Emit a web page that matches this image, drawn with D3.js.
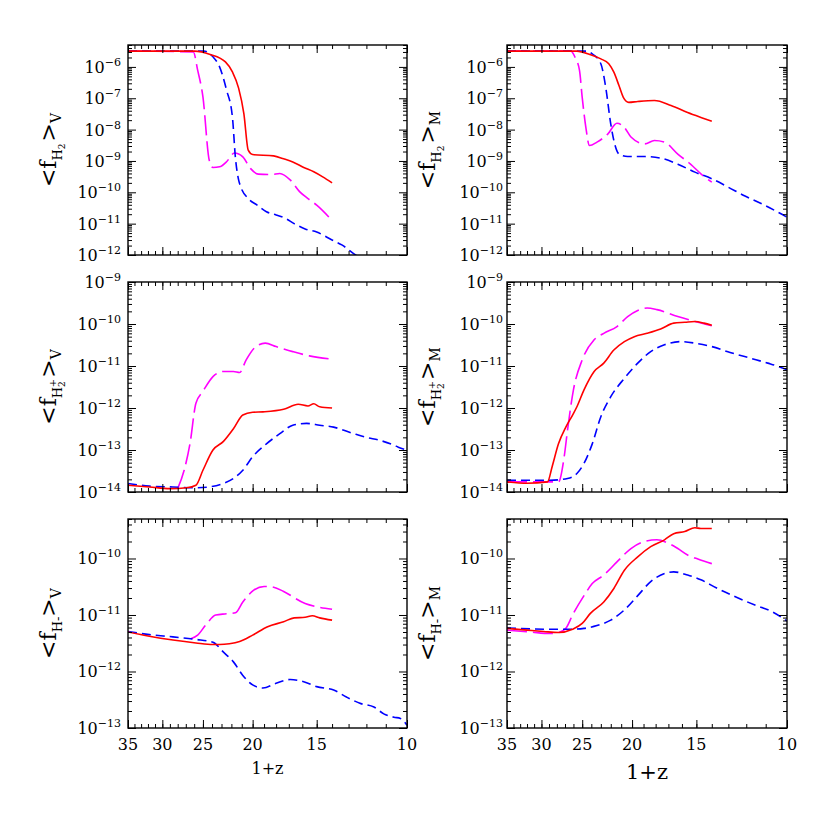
<!DOCTYPE html>
<html>
<head>
<meta charset="utf-8">
<script src="https://cdn.jsdelivr.net/npm/d3@7"></script>
<style>
  body { margin: 0; background: #fff; }
  svg { display: block; }
</style>
</head>
<body>
<div id="chart"></div>
<script>
// x axis: 1+z, log scale, running from 35 down to 10
const xDomain = [35, 10];
const xMajorTicks = [35, 30, 25, 20, 15, 10];

// y ranges per row (H2, H2+, H-)
const rowDomains = [[1e-12, 5e-6], [1e-14, 1e-9], [1e-13, 5e-10]];
const rowTickExps = [
  [-12, -11, -10, -9, -8, -7, -6],
  [-14, -13, -12, -11, -10, -9],
  [-13, -12, -11, -10]
];

// ---- <f_H2>_V ----
const h2V_solid = [[35, 3.2e-6], [26, 3.2e-6], [24.2, 2.5e-6], [22.6, 1.45e-6], [21.9, 6.9e-7], [21.3, 2.1e-7],
  [20.8, 3.2e-8], [20.4, 2.2e-9], [20.0, 1.6e-9], [18.2, 1.45e-9], [17.4, 1.17e-9], [16.7, 9.3e-10],
  [15.9, 6.2e-10], [15.2, 4.5e-10], [14.6, 3.1e-10], [14.0, 2.0e-10]];
const h2V_long = [[35, 3.2e-6], [26.1, 3.0e-6], [25.6, 7.9e-7], [25.0, 1.1e-7], [24.3, 1.05e-9], [23.9, 6.2e-10],
  [23.2, 6.5e-10], [22.5, 9.3e-10], [21.7, 1.8e-9], [20.9, 1.35e-9], [20.2, 5.8e-10], [19.5, 3.8e-10],
  [18.4, 3.7e-10], [17.7, 4.0e-10], [16.9, 2.5e-10], [16.2, 1.05e-10], [15.6, 6.3e-11], [15.0, 3.9e-11],
  [14.0, 1.26e-11]];
const h2V_short = [[35, 3.2e-6], [24.9, 3.2e-6], [23.9, 2.1e-6], [23.2, 1.0e-6], [22.5, 1.9e-7], [21.9, 2.5e-8],
  [21.6, 1.2e-9], [21.3, 2.5e-10], [21.1, 1.5e-10], [20.4, 6.3e-11], [19.6, 3.9e-11], [18.8, 2.4e-11],
  [18.0, 1.9e-11], [17.3, 1.5e-11], [16.6, 1.0e-11], [15.8, 6.8e-12], [15.0, 5.4e-12], [14.0, 3.0e-12],
  [13.4, 2.1e-12], [12.6, 1.0e-12], [12.0, 6e-13]];

// ---- <f_H2>_M ----
const h2M_solid = [[35, 3.2e-6], [25.6, 3.2e-6], [24.1, 2.45e-6], [23.0, 1.8e-6], [22.2, 1.26e-6], [21.7, 6.8e-7],
  [21.2, 2.5e-7], [20.8, 1.07e-7], [20.3, 7.4e-8], [19.5, 7.9e-8], [18.1, 8.5e-8], [16.8, 5.9e-8],
  [15.6, 3.5e-8], [14.7, 2.45e-8], [14.0, 1.86e-8]];
const h2M_long = [[35, 3.2e-6], [26.3, 3.2e-6], [25.8, 2.0e-6], [25.3, 7.6e-7], [25.0, 1.07e-7], [24.6, 1.2e-8],
  [24.2, 3.1e-9], [23.4, 4.0e-9], [22.3, 7.2e-9], [21.4, 1.6e-8], [20.7, 1.17e-8], [20.1, 5.8e-9],
  [18.9, 3.5e-9], [18.1, 4.5e-9], [17.3, 4.0e-9], [16.3, 1.66e-9], [15.4, 7.9e-10], [14.7, 3.9e-10],
  [14.0, 2.1e-10]];
const h2M_short = [[35, 3.2e-6], [24.6, 3.2e-6], [23.9, 2.6e-6], [23.0, 1.26e-6], [22.5, 2.2e-7], [22.0, 1.5e-8],
  [21.7, 4.5e-9], [21.2, 1.66e-9], [20.4, 1.38e-9], [18.9, 1.38e-9], [17.6, 1.23e-9], [16.3, 7.9e-10],
  [15.1, 4.4e-10], [14.0, 2.7e-10], [13.0, 1.45e-10], [12.1, 7.8e-11], [11.2, 4.3e-11], [10.4, 2.3e-11],
  [10.0, 1.6e-11]];

// ---- <f_H2+>_V ----
const h2pV_solid = [[35, 1.45e-14], [31.8, 1.32e-14], [29.0, 1.2e-14], [26.9, 1.26e-14], [25.8, 1.45e-14],
  [25.0, 3.3e-14], [23.9, 1.0e-13], [22.8, 1.6e-13], [21.8, 3.2e-13], [20.9, 6.8e-13], [20.0, 7.9e-13],
  [19.1, 8.1e-13], [17.4, 9.3e-13], [16.3, 1.23e-12], [15.6, 1.12e-12], [15.2, 1.26e-12], [14.8, 1.07e-12],
  [14.0, 1.0e-12]];
const h2pV_long = [[28.0, 1.2e-14], [27.2, 3.3e-14], [26.5, 1.4e-13], [25.8, 1.3e-12], [25.0, 2.5e-12],
  [23.9, 5.6e-12], [22.8, 7.4e-12], [21.8, 7.4e-12], [21.2, 7.0e-12], [20.6, 1.38e-11], [19.7, 2.9e-11],
  [18.9, 3.5e-11], [18.0, 2.9e-11], [16.7, 2.2e-11], [15.5, 1.74e-11], [14.0, 1.45e-11]];
const h2pV_short = [[35, 1.6e-14], [31.8, 1.38e-14], [28.6, 1.32e-14], [25.8, 1.26e-14], [24.3, 1.32e-14],
  [22.8, 1.6e-14], [21.8, 2.1e-14], [20.9, 3.3e-14], [20.0, 6.9e-14], [18.8, 1.4e-13], [17.7, 2.45e-13],
  [16.7, 3.9e-13], [15.7, 4.3e-13], [14.8, 3.9e-13], [13.9, 3.5e-13], [12.7, 2.45e-13], [12.0, 2.0e-13],
  [11.3, 1.7e-13], [10.6, 1.3e-13], [10.4, 1.17e-13], [10.0, 1.0e-13]];

// ---- <f_H2+>_M ----
const h2pM_solid = [[35, 1.74e-14], [32.0, 1.62e-14], [29.2, 1.74e-14], [28.6, 4.0e-14], [27.8, 1.4e-13],
  [26.9, 3.5e-13], [26.1, 6.8e-13], [25.6, 1.07e-12], [24.8, 2.7e-12], [23.7, 7.4e-12], [22.7, 1.17e-11],
  [21.7, 2.4e-11], [20.7, 3.8e-11], [19.8, 5.0e-11], [18.7, 6.0e-11], [17.6, 7.6e-11], [16.6, 1.05e-10],
  [15.8, 1.1e-10], [15.1, 1.15e-10], [14.5, 1.05e-10], [14.0, 9.3e-11]];
const h2pM_long = [[35, 1.74e-14], [27.8, 1.74e-14], [27.1, 6.9e-14], [26.7, 2.95e-13], [26.0, 2.7e-12],
  [25.0, 1.4e-11], [23.7, 4.2e-11], [22.7, 6.0e-11], [21.4, 8.7e-11], [20.4, 1.5e-10], [19.5, 2.1e-10],
  [18.7, 2.4e-10], [17.9, 2.2e-10], [16.3, 1.5e-10], [15.1, 1.15e-10], [14.0, 9.1e-11]];
const h2pM_short = [[35, 1.9e-14], [28.9, 1.9e-14], [26.7, 2.1e-14], [25.6, 2.75e-14], [24.8, 4.8e-14],
  [23.9, 1.4e-13], [23.0, 6.2e-13], [22.0, 1.86e-12], [20.7, 5.1e-12], [19.5, 1.17e-11], [18.4, 2.2e-11],
  [17.3, 3.2e-11], [16.1, 3.8e-11], [15.1, 3.5e-11], [14.0, 2.9e-11], [12.9, 2.1e-11], [11.7, 1.5e-11],
  [10.9, 1.17e-11], [10.4, 9.8e-12], [10.0, 8.1e-12]];

// ---- <f_H->_V ----
const hmV_solid = [[35, 5.0e-12], [31.8, 4.2e-12], [28.6, 3.6e-12], [25.8, 3.2e-12], [23.9, 3.0e-12],
  [23.2, 3.0e-12], [22.2, 3.1e-12], [21.2, 3.4e-12], [20.0, 4.4e-12], [18.7, 6.2e-12], [17.4, 7.6e-12],
  [16.6, 8.9e-12], [15.8, 9.1e-12], [15.3, 9.7e-12], [14.8, 8.9e-12], [14.0, 8.1e-12]];
const hmV_long = [[26.4, 3.8e-12], [25.6, 4.4e-12], [24.7, 6.6e-12], [23.6, 1.0e-11], [22.5, 1.05e-11],
  [21.6, 1.1e-11], [20.9, 1.7e-11], [19.9, 2.75e-11], [19.0, 3.2e-11], [18.2, 3.1e-11], [17.4, 2.6e-11],
  [15.8, 1.6e-11], [15.0, 1.4e-11], [14.0, 1.26e-11]];
const hmV_short = [[35, 5.1e-12], [31.8, 4.5e-12], [28.6, 4.1e-12], [25.8, 3.7e-12], [23.9, 3.3e-12],
  [22.8, 2.2e-12], [21.8, 1.48e-12], [20.9, 8.5e-13], [20.0, 5.8e-13], [19.1, 5.1e-13], [18.0, 6.2e-13],
  [16.9, 7.2e-13], [15.9, 6.6e-13], [15.0, 5.4e-13], [13.9, 4.7e-13], [13.1, 3.5e-13], [12.3, 2.7e-13],
  [11.6, 2.35e-13], [11.1, 1.78e-13], [10.6, 1.55e-13], [10.3, 1.48e-13], [10.0, 1.12e-13]];

// ---- <f_H->_M ----
const hmM_solid = [[35, 5.8e-12], [32.0, 5.4e-12], [29.7, 5.1e-12], [27.8, 4.9e-12], [26.1, 5.6e-12],
  [25.0, 7.1e-12], [24.1, 1.07e-11], [22.7, 1.7e-11], [21.7, 2.95e-11], [20.7, 6.2e-11], [19.5, 1.07e-10],
  [18.4, 1.62e-10], [17.3, 2.14e-10], [16.6, 2.75e-10], [15.8, 3.0e-10], [15.1, 3.5e-10], [14.7, 3.4e-10],
  [14.0, 3.4e-10]];
const hmM_long = [[35, 5.4e-12], [31.5, 5.0e-12], [28.9, 4.7e-12], [27.8, 4.9e-12], [26.9, 5.8e-12],
  [26.1, 1.0e-11], [24.8, 2.2e-11], [23.9, 3.6e-11], [22.7, 5.1e-11], [21.4, 8.7e-11], [20.1, 1.5e-10],
  [18.9, 2.0e-10], [17.9, 2.14e-10], [17.0, 1.86e-10], [16.3, 1.5e-10], [15.6, 1.15e-10], [14.9, 9.8e-11],
  [14.0, 8.1e-11]];
const hmM_short = [[35, 5.9e-12], [28.9, 5.6e-12], [26.4, 5.6e-12], [24.8, 5.8e-12], [23.4, 6.5e-12],
  [22.0, 8.1e-12], [20.7, 1.23e-11], [19.5, 2.2e-11], [18.4, 3.9e-11], [17.3, 5.4e-11], [16.6, 5.8e-11],
  [15.6, 5.1e-11], [14.7, 4.2e-11], [13.7, 3.0e-11], [12.6, 2.1e-11], [11.5, 1.48e-11], [10.7, 1.15e-11],
  [10.0, 7.8e-12]];

const panels = [
  { row: 0, col: 0, species: 'H2', weight: 'V', series: [h2V_long, h2V_short, h2V_solid] },
  { row: 0, col: 1, species: 'H2', weight: 'M', series: [h2M_long, h2M_short, h2M_solid] },
  { row: 1, col: 0, species: 'H2+', weight: 'V', series: [h2pV_long, h2pV_short, h2pV_solid] },
  { row: 1, col: 1, species: 'H2+', weight: 'M', series: [h2pM_long, h2pM_short, h2pM_solid] },
  { row: 2, col: 0, species: 'H-', weight: 'V', series: [hmV_long, hmV_short, hmV_solid] },
  { row: 2, col: 1, species: 'H-', weight: 'M', series: [hmM_long, hmM_short, hmM_solid] }
];

// line styles, in the order of panel.series
const styles = [
  { color: '#ff00ff', dash: '20,6' },
  { color: '#0000ff', dash: '9,5' },
  { color: '#ff0000', dash: null }
];

const cols = [
  { x0: 128, x1: 407, labelEnd: 121, yLabelX: 56, xLabelSize: 16 },
  { x0: 507, x1: 787, labelEnd: 503, yLabelX: 435, xLabelSize: 21 }
];
const rows = [{ y0: 45, y1: 255 }, { y0: 282, y1: 492 }, { y0: 519, y1: 728 }];

const svg = d3.select('#chart').append('svg')
  .attr('width', 830).attr('height', 830)
  .style('font-family', '"DejaVu Serif", "Liberation Serif", serif');

const defs = svg.append('defs');

function minorLogTicks(domain) {
  const out = [];
  const lo = Math.floor(Math.log10(domain[0])), hi = Math.ceil(Math.log10(domain[1]));
  for (let e = lo; e <= hi; e++) {
    for (let k = 2; k <= 9; k++) {
      const v = k * Math.pow(10, e);
      if (v > domain[0] && v <= domain[1] * 1.0001) out.push(v);
    }
  }
  return out;
}

function addYLabel(g, cx, cy, species, weight) {
  const t = g.append('text')
    .attr('transform', `translate(${cx},${cy}) rotate(-90)`)
    .attr('text-anchor', 'middle')
    .style('font-size', '22px');
  t.append('tspan').text('<f');
  if (species === 'H2') {
    t.append('tspan').attr('dy', 6).style('font-size', '13px').text('H');
    t.append('tspan').attr('dy', 3).style('font-size', '9px').text('2');
    t.append('tspan').attr('dy', -9).attr('dx', 2).text('>');
  } else if (species === 'H2+') {
    t.append('tspan').attr('dy', 6).style('font-size', '13px').text('H');
    t.append('tspan').attr('dy', 3).style('font-size', '9px').text('2');
    t.append('tspan').attr('dy', -9).attr('dx', -6).style('font-size', '10px').text('+');
    t.append('tspan').attr('dy', 0).attr('dx', 1).text('>');
  } else {
    t.append('tspan').attr('dy', 6).style('font-size', '13px').text('H-');
    t.append('tspan').attr('dy', -6).text('>');
  }
  t.append('tspan').attr('dy', 5).style('font-size', '14px').text(weight);
}

const xMinorTicks = d3.range(11, 35);

panels.forEach((p, i) => {
  const c = cols[p.col], r = rows[p.row];
  const dom = rowDomains[p.row];
  const x = d3.scaleLog().domain(xDomain).range([c.x0, c.x1]);
  const y = d3.scaleLog().domain(dom).range([r.y1, r.y0]);
  const g = svg.append('g').attr('class', 'panel');

  defs.append('clipPath').attr('id', 'clip' + i)
    .append('rect').attr('x', c.x0).attr('y', r.y0)
    .attr('width', c.x1 - c.x0).attr('height', r.y1 - r.y0);

  // curves
  const line = d3.line()
    .x(d => x(d[0])).y(d => y(d[1]))
    .curve(d3.curveMonotoneX);
  const curves = g.append('g').attr('clip-path', `url(#clip${i})`);
  p.series.forEach((s, k) => {
    curves.append('path')
      .datum(s)
      .attr('d', line)
      .attr('fill', 'none')
      .attr('stroke', styles[k].color)
      .attr('stroke-width', 1.6)
      .attr('stroke-dasharray', styles[k].dash);
  });

  // ticks on all four sides, pointing inward
  const yMinor = minorLogTicks(dom);
  const yMajor = rowTickExps[p.row].map(e => Math.pow(10, e));
  const axes = [
    [d3.axisBottom(x), `translate(0,${r.y1})`, xMajorTicks, xMinorTicks],
    [d3.axisTop(x), `translate(0,${r.y0})`, xMajorTicks, xMinorTicks],
    [d3.axisLeft(y), `translate(${c.x0},0)`, yMajor, yMinor],
    [d3.axisRight(y), `translate(${c.x1},0)`, yMajor, yMinor]
  ];
  axes.forEach(([ax, tr, major, minor]) => {
    const a1 = g.append('g').attr('transform', tr)
      .call(ax.tickValues(major).tickSize(-8).tickFormat(''));
    const a2 = g.append('g').attr('transform', tr)
      .call(ax.tickValues(minor).tickSize(-4).tickFormat(''));
    [a1, a2].forEach(a => {
      a.select('.domain').remove();
      a.selectAll('line').attr('stroke', '#000').attr('stroke-width', 1);
    });
  });

  // frame
  g.append('rect')
    .attr('x', c.x0).attr('y', r.y0)
    .attr('width', c.x1 - c.x0).attr('height', r.y1 - r.y0)
    .attr('fill', 'none').attr('stroke', '#000').attr('stroke-width', 1.4);

  // y tick labels 10^n
  rowTickExps[p.row].forEach(e => {
    const t = g.append('text')
      .attr('x', c.labelEnd)
      .attr('y', y(Math.pow(10, e)) + 6)
      .attr('text-anchor', 'end')
      .style('font-size', '16px');
    t.append('tspan').text('10');
    t.append('tspan').attr('dy', -7).style('font-size', '11px').text('\u2212' + Math.abs(e));
  });

  addYLabel(g, c.yLabelX, (r.y0 + r.y1) / 2, p.species, p.weight);

  // x tick labels on bottom row
  if (p.row === 2) {
    xMajorTicks.forEach(v => {
      g.append('text')
        .attr('x', x(v)).attr('y', r.y1 + 22)
        .attr('text-anchor', 'middle')
        .style('font-size', '16px')
        .text(v);
    });
    g.append('text')
      .attr('x', (c.x0 + c.x1) / 2).attr('y', p.col === 0 ? 774 : 779)
      .attr('text-anchor', 'middle')
      .style('font-size', c.xLabelSize + 'px')
      .text('1+z');
  }
});
</script>
</body>
</html>
